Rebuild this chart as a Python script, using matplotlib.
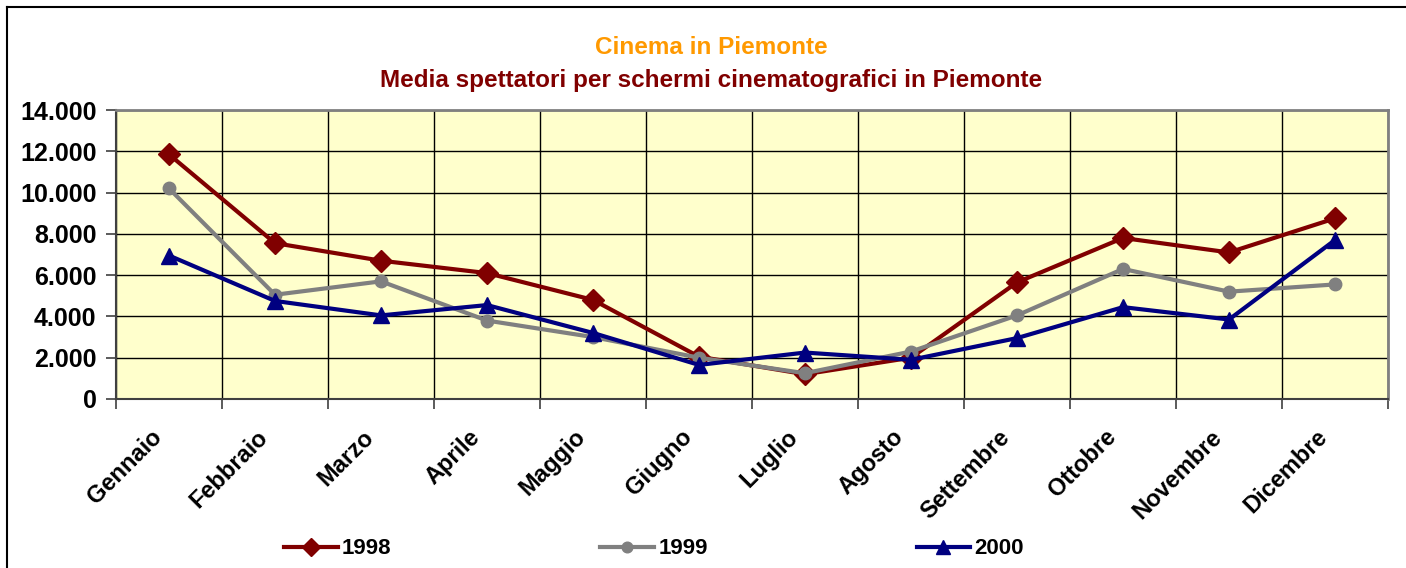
import matplotlib.pyplot as plt
from matplotlib.lines import Line2D
from matplotlib.ticker import FuncFormatter, MultipleLocator
from matplotlib.transforms import ScaledTranslation
import numpy as np

plt.rcParams["font.family"] = ["Liberation Sans", "DejaVu Sans"]

# values
mesi = ["Gennaio", "Febbraio", "Marzo", "Aprile", "Maggio", "Giugno",
        "Luglio", "Agosto", "Settembre", "Ottobre", "Novembre", "Dicembre"]
y1998 = [11850, 7550, 6700, 6100, 4800, 2050, 1200, 2000, 5650, 7800, 7100, 8750]
y1999 = [10200, 5050, 5700, 3800, 3000, 2000, 1250, 2300, 4050, 6300, 5200, 5550]
y2000 = [6950, 4750, 4050, 4550, 3200, 1650, 2250, 1900, 2950, 4450, 3850, 7700]

titolo1 = "Cinema in Piemonte"
titolo2 = "Media spettatori per schermi cinematografici in Piemonte"

W, H = 1406, 568
fig = plt.figure(figsize=(W / 100, H / 100), dpi=100)
ax = fig.add_axes([116 / W, 1 - 399 / H, (1388 - 116) / W, (399 - 110) / H])
ax.set_facecolor("#FFFFCC")

x = np.arange(len(mesi))
series = [
    ("1998", y1998, "#800000", "D", 11),
    ("1999", y1999, "#808080", "o", 9),
    ("2000", y2000, "#000080", "^", 12),
]
handles = []
for lbl, vals, col, mk, ms in series:
    h, = ax.plot(x, vals, color=col, lw=3, marker=mk, markersize=ms,
                 markeredgecolor=col, label=lbl, zorder=3)
    handles.append(h)

ax.set_xlim(-0.5, len(mesi) - 0.5)
ax.set_ylim(0, 14000)
ax.yaxis.set_major_locator(MultipleLocator(2000))
ax.yaxis.set_major_formatter(FuncFormatter(lambda v, p: f"{int(v):,}".replace(",", ".")))
ax.grid(axis="y", color="black", lw=1)
ax.set_xticks(x)
ax.set_xticklabels(mesi, rotation=45, ha="right", rotation_mode="anchor",
                   fontsize=17, fontweight="bold")
ax.set_xticks(np.arange(-0.5, len(mesi), 1), minor=True)
ax.grid(axis="x", which="minor", color="black", lw=1)
ax.tick_params(axis="x", which="major", length=0, pad=19)
ax.tick_params(axis="x", which="minor", length=7, width=1.2, color="#404040", direction="out")
ax.tick_params(axis="y", length=7, width=1.2, color="#404040", direction="out", pad=7)
for t in ax.get_yticklabels():
    t.set_fontsize(18)
    t.set_fontweight("bold")
shift = ScaledTranslation(-0.19, 0, fig.dpi_scale_trans)
for t in ax.get_xticklabels():
    t.set_transform(t.get_transform() + shift)
ax.set_axisbelow(True)

for s in ["top", "right"]:
    ax.spines[s].set_color("#808080")
    ax.spines[s].set_linewidth(2)
for s in ["left", "bottom"]:
    ax.spines[s].set_color("#404040")
    ax.spines[s].set_linewidth(1.5)

fig.text(711 / W, 1 - 48 / H, titolo1, color="#FF9900", fontsize=17.5,
         fontweight="bold", ha="center", va="center")
fig.text(711 / W, 1 - 80 / H, titolo2, color="#800000", fontsize=17.5,
         fontweight="bold", ha="center", va="center")

fig.legend(handles=handles, loc="center", bbox_to_anchor=(654 / W, 1 - 549 / H),
           ncol=3, frameon=False, prop={"weight": "bold", "size": 16},
           handlelength=2.4, handletextpad=0.2, columnspacing=9.4, markerscale=0.85)

# outer chart frame
fig.add_artist(Line2D([7 / W, 7 / W], [0, 1 - 7 / H], color="black", lw=1.5,
                      transform=fig.transFigure))
fig.add_artist(Line2D([7 / W, 1], [1 - 7 / H, 1 - 7 / H], color="black", lw=1.5,
                      transform=fig.transFigure))

fig.savefig("out.png", dpi=100)
